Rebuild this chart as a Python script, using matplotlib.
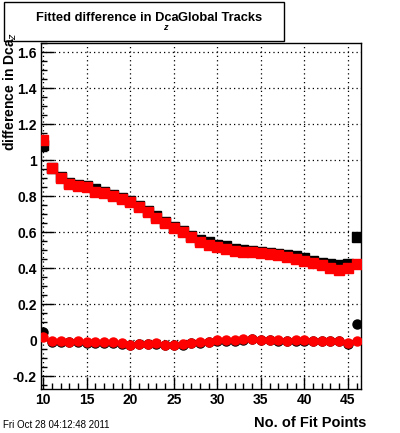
import numpy as np
import matplotlib
matplotlib.use("Agg")
import matplotlib.pyplot as plt
from matplotlib.ticker import MultipleLocator, FormatStrFormatter
from matplotlib.patches import Rectangle

plt.rcParams['font.family'] = ['Liberation Sans', 'DejaVu Sans']

# number of fit points
nfit = np.arange(10, 47)

# upper pair (squares)
sq_black = [1.083, 0.958, 0.908, 0.875, 0.864, 0.858, 0.84, 0.822, 0.806, 0.79,
            0.775, 0.745, 0.718, 0.688, 0.658, 0.63, 0.605, 0.58, 0.558, 0.545,
            0.53, 0.522, 0.508, 0.50, 0.495, 0.49, 0.486, 0.48, 0.475, 0.465,
            0.455, 0.44, 0.43, 0.425, 0.415, 0.425, 0.574]
sq_red = [1.114, 0.955, 0.90, 0.87, 0.855, 0.85, 0.823, 0.82, 0.804, 0.782,
          0.767, 0.741, 0.714, 0.68, 0.651, 0.622, 0.60, 0.572, 0.548, 0.53,
          0.515, 0.504, 0.498, 0.492, 0.488, 0.483, 0.48, 0.474, 0.464, 0.451,
          0.442, 0.43, 0.417, 0.403, 0.39, 0.40, 0.423]

# lower pair (circles)
ci_black = [0.046, -0.008, -0.008, -0.013, -0.012, -0.016, -0.015, -0.015, -0.016, -0.021,
            -0.027, -0.023, -0.022, -0.021, -0.027, -0.027, -0.025, -0.018, -0.015, -0.013,
            -0.004, -0.005, -0.003, 0.003, 0.005, -0.002, -0.002, -0.004, -0.005, -0.003,
            -0.004, -0.005, -0.006, -0.006, -0.005, -0.02, 0.089]
ci_red = [0.015, -0.006, -0.004, -0.01, -0.006, -0.013, -0.012, -0.01, -0.012, -0.018,
          -0.025, -0.02, -0.02, -0.018, -0.025, -0.025, -0.022, -0.015, -0.013, -0.01,
          0.0, -0.002, 0.0, 0.006, 0.008, 0.0, 0.0, -0.002, -0.004, 0.0,
          -0.002, -0.004, -0.005, -0.005, -0.004, -0.015, -0.005]

sq_err = [0.008] * 36 + [0.025]
ci_err = [0.008] * 35 + [0.015, 0.022]

fig = plt.figure(figsize=(4.0, 4.33), dpi=100)
ax = fig.add_axes([0.1025, 0.1016, 0.7988, 0.7991])

ax.errorbar(nfit, sq_black, yerr=sq_err, fmt='s', color='black', ms=6.5,
            ecolor='black', elinewidth=1, capsize=0, zorder=3)
ax.errorbar(nfit, ci_black, yerr=ci_err, fmt='o', color='black', ms=6.5,
            ecolor='black', elinewidth=1, capsize=0, zorder=3)
ax.errorbar(nfit, sq_red, yerr=sq_err, fmt='s', color='red', ms=6.5,
            ecolor='black', elinewidth=1, capsize=0, zorder=4)
ax.errorbar(nfit, ci_red, yerr=ci_err, fmt='o', color='red', ms=6.5,
            ecolor='black', elinewidth=1, capsize=0, zorder=4)

ax.set_xlim(9.74, 46.45)
ax.set_ylim(-0.272, 1.652)

ax.xaxis.set_major_locator(MultipleLocator(5))
ax.xaxis.set_minor_locator(MultipleLocator(1))
ax.yaxis.set_major_locator(MultipleLocator(0.2))
ax.yaxis.set_minor_locator(MultipleLocator(0.05))
ax.yaxis.set_major_formatter(FormatStrFormatter('%g'))

ax.tick_params(which='both', direction='in', top=False, right=False, width=1)
ax.tick_params(which='major', length=9, labelsize=10, pad=3)
ax.tick_params(which='minor', length=4.5)
for lab in ax.get_xticklabels() + ax.get_yticklabels():
    lab.set_fontweight('bold')

ax.grid(True, which='major', color='black', linestyle=(0, (1, 2.5)), linewidth=0.9)
for s in ax.spines.values():
    s.set_linewidth(1)

# axis titles placed like ROOT does
fig.text(366 / 400, 1 - 427 / 433, 'No. of Fit Points', fontsize=10.5,
         fontweight='bold', ha='right', va='baseline')
fig.text(10 / 400, 1 - 32 / 433, 'difference in Dca$_{z}$', fontsize=10,
         fontweight='bold', rotation=90, ha='center', va='top')

# title box (ROOT style)
fig.patches.append(Rectangle((4 / 400, 1 - 40.5 / 433), 280 / 400, 38.5 / 433,
                             transform=fig.transFigure, facecolor='white',
                             edgecolor='black', linewidth=1))
fig.text(36 / 400, 1 - 21 / 433, 'Fitted difference in Dca', fontsize=9.3,
         fontweight='bold', ha='left', va='baseline')
fig.text(262 / 400, 1 - 21 / 433, 'Global Tracks', fontsize=9.3,
         fontweight='bold', ha='right', va='baseline')
fig.text(165 / 400, 1 - 30 / 433, 'z', fontsize=6.5, fontweight='bold',
         style='italic', ha='center', va='baseline')

fig.text(3 / 400, 1 - 428 / 433, 'Fri Oct 28 04:12:48 2011', fontsize=7,
         ha='left', va='baseline')

fig.savefig('out.png', dpi=100)
